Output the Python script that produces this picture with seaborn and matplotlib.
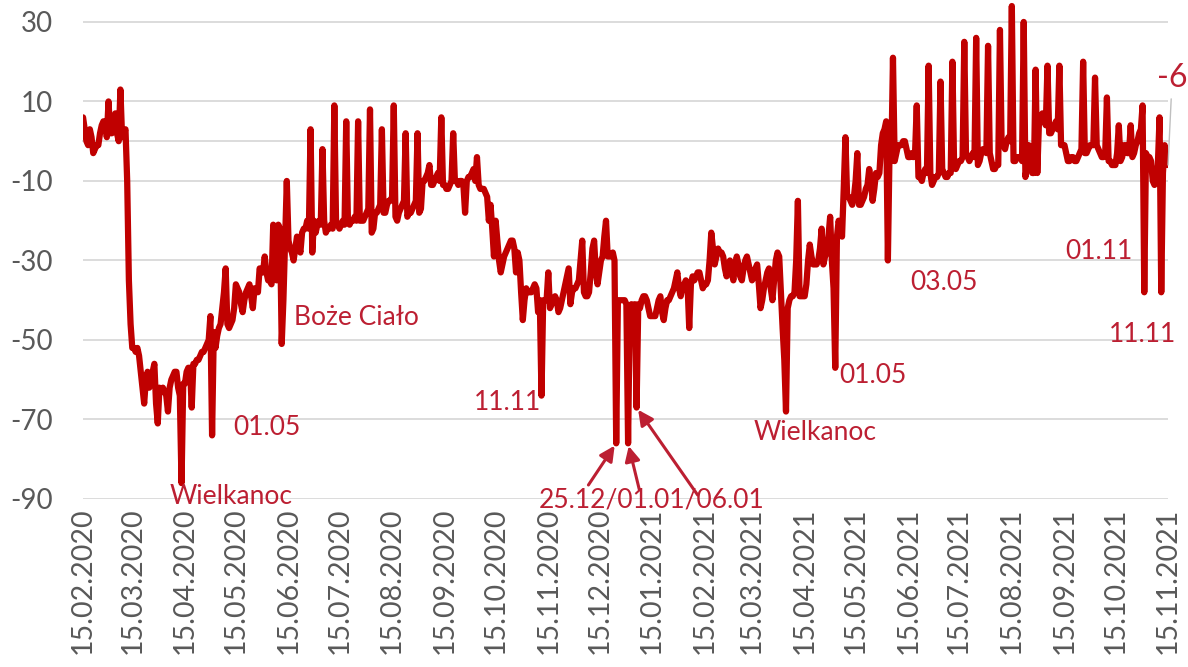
import matplotlib
matplotlib.use("Agg")
import matplotlib.pyplot as plt
import pandas as pd
import seaborn as sns

# daily values, first day 15.02.2020, one row = one week
values = [
    6, 3, 0, -1, 3, 1, -3,
    -2, -1, -1, 2, 4, 5, 5,
    1, 10, 2, 2, 5, 7, 2,
    0, 13, 1, 2, 3, -10, -35,
    -46, -52, -52, -53, -52, -54, -58,
    -62, -66, -60, -58, -62, -60, -58,
    -56, -66, -71, -62, -63, -62, -63,
    -64, -68, -62, -60, -59, -58, -58,
    -62, -64, -86, -61, -61, -58, -57,
    -57, -67, -56, -56, -55, -55, -54,
    -53, -53, -52, -51, -50, -44, -74,
    -48, -52, -49, -47, -46, -42, -38,
    -32, -46, -47, -46, -45, -42, -36,
    -37, -38, -41, -43, -40, -38, -37,
    -36, -39, -42, -37, -37, -38, -32,
    -33, -33, -29, -33, -35, -35, -36,
    -21, -22, -35, -21, -22, -51, -40,
    -25, -10, -25, -27, -28, -30, -27,
    -24, -26, -28, -23, -22, -22, -20,
    -22, 3, -28, -20, -23, -21, -20,
    -21, -2, -20, -23, -22, -22, -21,
    -22, 9, -20, -21, -22, -21, -20,
    -21, 5, -20, -21, -20, -20, -19,
    -20, 5, -20, -20, -20, -19, -18,
    -17, 8, -23, -22, -18, -18, -17,
    -16, 3, -18, -18, -16, -15, -15,
    -14, 9, -19, -20, -18, -17, -16,
    -15, 2, -19, -18, -18, -17, -16,
    -15, 2, -18, -17, -10, -10, -9,
    -8, -6, -11, -11, -10, -9, -8,
    -10, 6, -11, -11, -12, -12, -11,
    -10, 2, -10, -10, -11, -10, -10,
    -11, -18, -10, -9, -9, -8, -7,
    -10, -4, -11, -12, -12, -12, -13,
    -14, -20, -16, -22, -29, -20, -25,
    -30, -33, -31, -29, -28, -27, -26,
    -25, -25, -27, -33, -28, -30, -38,
    -45, -40, -37, -38, -38, -38, -37,
    -36, -37, -43, -40, -64, -40, -40,
    -40, -33, -42, -41, -40, -39, -40,
    -43, -42, -40, -38, -36, -34, -32,
    -41, -38, -37, -37, -36, -35, -30,
    -25, -38, -39, -39, -38, -33, -27,
    -25, -33, -36, -33, -30, -29, -24,
    -20, -29, -29, -29, -28, -30, -76,
    -40, -40, -40, -40, -40, -41, -76,
    -42, -41, -42, -41, -67, -41, -42,
    -40, -39, -39, -40, -42, -44, -44,
    -44, -44, -42, -40, -39, -43, -45,
    -42, -40, -40, -39, -38, -37, -35,
    -33, -37, -39, -37, -36, -35, -36,
    -47, -36, -34, -35, -34, -33, -33,
    -35, -37, -36, -36, -35, -30, -23,
    -27, -31, -29, -27, -28, -28, -29,
    -32, -34, -31, -30, -33, -35, -31,
    -29, -31, -34, -35, -32, -30, -29,
    -31, -33, -35, -34, -32, -31, -36,
    -42, -40, -37, -35, -33, -32, -37,
    -40, -35, -30, -28, -29, -38, -47,
    -55, -68, -42, -40, -39, -39, -38,
    -30, -15, -39, -39, -39, -39, -36,
    -30, -26, -29, -31, -31, -31, -30,
    -27, -22, -31, -29, -28, -24, -19,
    -30, -37, -57, -24, -20, -22, -24,
    -12, 1, -14, -14, -15, -16, -14,
    -10, -3, -16, -16, -15, -14, -12,
    -11, -7, -10, -15, -12, -8, -9,
    -8, -1, 2, 3, 5, -30, -2,
    -5, 21, -5, -3, -1, -1, -1,
    0, 0, -2, -4, -4, -3, -4,
    -3, 9, -9, -9, -10, -8, -7,
    -8, 19, -8, -11, -10, -9, -9,
    -8, 15, -7, -8, -9, -9, -8,
    -8, 20, -6, -7, -6, -5, -5,
    -4, 25, -3, -4, -5, -4, -3,
    -4, 26, -6, -5, -3, -2, -2,
    -3, 24, -3, -5, -7, -7, -6,
    -6, 28, -1, -1, -2, 0, 1,
    0, 34, -5, -5, -4, -4, -4,
    -5, 30, -9, -6, -1, -4, -8,
    -8, 18, -8, 5, 6, 7, 5,
    4, 19, 2, 2, 3, 4, 5,
    3, 19, -1, -1, -1, -3, -5,
    -5, -4, -4, -5, -5, -4, -3,
    -2, 20, -3, -3, -2, -1, -1,
    -1, 16, -1, -2, -3, -4, -4,
    -3, 11, -5, -5, -6, -6, -6,
    -3, 4, -5, -4, -1, -1, -3,
    -3, 4, -4, -3, -1, 0, 2,
    3, 9, -38, -3, -4, -4, -5,
    -10, -11, -10, -6, 6, -38, -8,
    -1, -4, -6,
]
start_date = "2020-02-15"
dates = pd.date_range(start_date, periods=len(values), freq="D")
df = pd.DataFrame({"date": dates, "value": values})

tick_dates = pd.date_range("2020-02-01", "2021-11-01", freq="MS") + pd.Timedelta(days=14)
tick_labels = [d.strftime("%d.%m.%Y") for d in tick_dates]
y_ticks = [-90, -70, -50, -30, -10, 10, 30]

# label text, date, value
notes = [
    ("Wielkanoc", "2020-05-12", -89.5),
    ("01.05", "2020-06-02", -72.0),
    ("Boże Ciało", "2020-07-25", -44.3),
    ("11.11", "2020-10-22", -65.8),
    ("25.12/01.01/06.01", "2021-01-15", -90.3),
    ("Wielkanoc", "2021-04-21", -73.2),
    ("01.05", "2021-05-25", -59.0),
    ("03.05", "2021-07-06", -35.6),
    ("01.11", "2021-10-05", -27.8),
    ("11.11", "2021-10-31", -48.7),
]
arrow_days = ["2020-12-25", "2021-01-01", "2021-01-06"]
arrow_offsets = [(-20, -30), (8, -33), (44, -63)]

line_red = "#C00000"
text_red = "#BC1F32"
grey_text = "#595959"
grid_grey = "#D9D9D9"

sns.set_style("white")
plt.rcParams["font.family"] = ["Lato", "DejaVu Sans"]
plt.rcParams["axes.unicode_minus"] = False

fig = plt.figure(figsize=(11.88, 6.67), dpi=100)
ax = fig.add_axes([0.0699, 0.2519, 0.9133, 0.745])

sns.lineplot(data=df, x="date", y="value", color=line_red, lw=4.5, ax=ax,
             solid_joinstyle="round", solid_capstyle="round", zorder=3)

ax.set_ylim(-90, 35)
ax.set_xlim(pd.Timestamp("2020-02-15"), pd.Timestamp("2021-11-15"))
ax.set_yticks(y_ticks)
ax.tick_params(axis="y", length=0, pad=22, labelsize=20, labelcolor=grey_text)
for yv in y_ticks:
    ax.axhline(yv, color=grid_grey, lw=1.3, zorder=1)

for s in ["top", "right", "left"]:
    ax.spines[s].set_visible(False)
ax.spines["bottom"].set_position(("data", 0))
ax.spines["bottom"].set_color(grid_grey)
ax.spines["bottom"].set_linewidth(1.3)
ax.spines["bottom"].set_zorder(1)
ax.set_xticks(tick_dates)
ax.tick_params(axis="x", direction="out", length=7.5, width=1.3, color=grid_grey,
               labelbottom=False)
ax.set_xlabel("")
ax.set_ylabel("")

sec = ax.secondary_xaxis(location=0)
sec.set_xticks(tick_dates)
sec.set_xticklabels(tick_labels, rotation=90)
sec.tick_params(length=0, pad=6, labelsize=20.5, labelcolor=grey_text)
sec.spines["bottom"].set_visible(False)

for txt, d, v in notes:
    ax.text(pd.Timestamp(d), v, txt, color=text_red, fontsize=19,
            ha="center", va="center", zorder=4)

val = df.set_index("date")["value"]
for d, off in zip(arrow_days, arrow_offsets):
    t = pd.Timestamp(d)
    ax.annotate("", xy=(t, val[t]), xytext=off, textcoords="offset points",
                arrowprops=dict(arrowstyle="-|>,head_length=0.9,head_width=0.45",
                                color=text_red, lw=2.2, shrinkA=0, shrinkB=2),
                zorder=4)

last_t = df["date"].iloc[-1]
last_v = df["value"].iloc[-1]
ax.annotate(f"{last_v:.0f}", xy=(last_t, last_v), xytext=(3, 52),
            textcoords="offset points", ha="center", va="bottom",
            color=text_red, fontsize=23,
            arrowprops=dict(arrowstyle="-", color="#BFBFBF", lw=1.0,
                            shrinkA=2, shrinkB=0), zorder=4)

fig.savefig("out.png", dpi=100)
